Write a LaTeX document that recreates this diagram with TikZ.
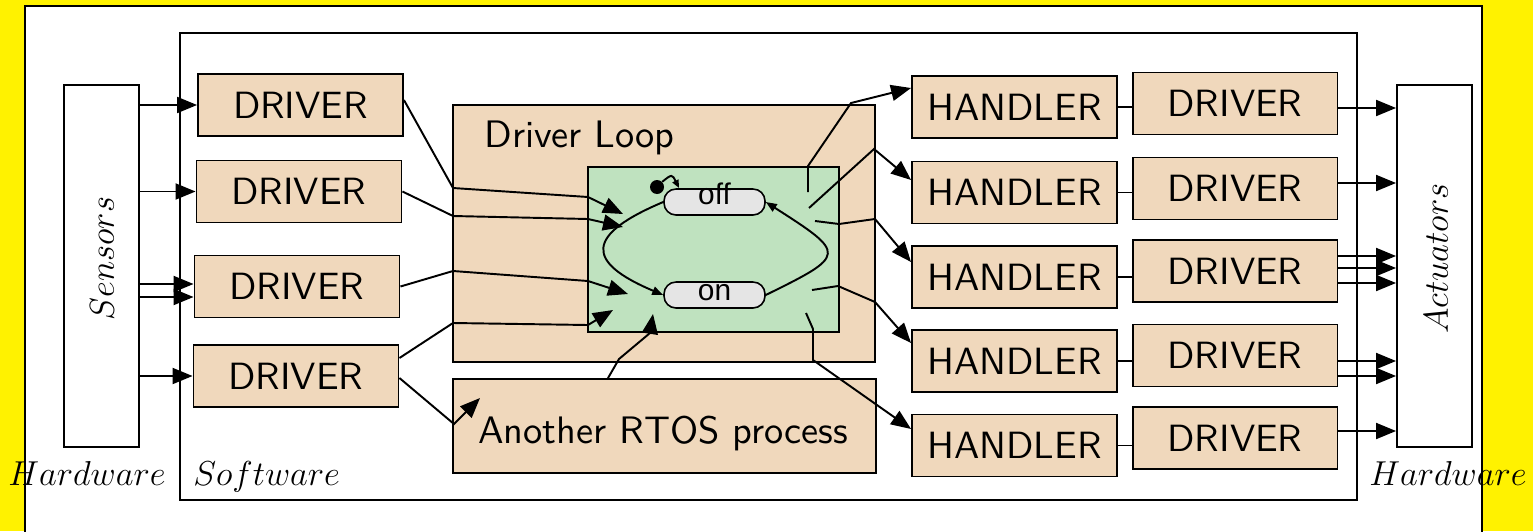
\RequirePackage{fix-cm}
\documentclass[tikz,border=0pt]{standalone}
\usepackage{fontspec}
\newfontfamily\statefont{Liberation Sans}
\newfontfamily\boxfont{lmsans10-regular.otf}
\usetikzlibrary{arrows.meta}
\definecolor{tanfill}{RGB}{240,216,188}
\definecolor{loopgreen}{RGB}{191,226,191}
\definecolor{stategray}{RGB}{229,229,229}
\begin{document}
\begin{tikzpicture}[x=0.02cm,y=-0.02cm,
  frame/.style={draw,line width=1.1pt},
  box/.style={draw,line width=1.1pt,fill=tanfill,inner sep=0pt,
    minimum width=4.1cm,minimum height=1.24cm,
    font=\boxfont\fontsize{21.6}{26}\selectfont},
  hw/.style={draw,line width=1.1pt,fill=white,inner sep=0pt,
    minimum width=1.5cm,minimum height=7.24cm},
  statebox/.style={draw,line width=0.9pt,fill=stategray,rounded corners=0.24cm,
    minimum width=2.02cm,minimum height=0.52cm,inner sep=0pt},
  statetext/.style={anchor=base,inner sep=0pt,font=\statefont\fontsize{17}{19}\selectfont},
  mathlbl/.style={inner sep=0pt,font=\fontsize{19.7}{24}\selectfont},
  bigtext/.style={inner sep=0pt,anchor=base west,font=\boxfont\fontsize{21.8}{26}\selectfont},
  ln/.style={draw,line width=1.1pt},
  arr/.style={ln,-{Triangle[length=0.4cm,width=0.32cm]}},
  smallarr/.style={ln,-{Triangle[length=0.22cm,width=0.17cm]}},
  tinyarr/.style={ln,-{Triangle[length=0.16cm,width=0.13cm]}}]

\useasboundingbox (0,0) rectangle (1533,531);
\clip (0,0) rectangle (1533,531);
\fill[yellow] (0,0) rectangle (1533,531);
\draw[frame,fill=white] (25,6) rectangle (1482,560);
\draw[frame] (180,33) rectangle (1357,500);

% hardware on both sides
\node[hw] (sens) at (101.5,266) {};
\node[hw] (act) at (1434.5,266) {};
\node[mathlbl,rotate=90] at (102,258.5) {$Sensors$};
\node[mathlbl,rotate=90] at (1436,258.5) {$Actuators$};

% input drivers
\node[box] (d1) at (300.5,105) {DRIVER};
\node[box] (d2) at (299,191.5) {DRIVER};
\node[box] (d3) at (297,286.5) {DRIVER};
\node[box] (d4) at (296,376) {DRIVER};

% driver loop with its state machine
\node[draw,line width=1.1pt,fill=tanfill,minimum width=8.44cm,minimum height=5.14cm,inner sep=0pt]
  (loop) at (664,233.5) {};
\node[bigtext] (looplbl) at (484,147) {Driver Loop};
\node[draw,line width=1.1pt,fill=loopgreen,minimum width=5.02cm,minimum height=3.3cm,inner sep=0pt]
  (sm) at (713.5,249.5) {};
\node[statebox] (off) at (714.5,202) {};
\node[statetext] at (714.5,204) {off};
\node[statebox] (on) at (714.5,295) {};
\node[statetext] at (714.5,300) {on};
\node[circle,fill,inner sep=0pt,minimum size=0.28cm] (init) at (657,187) {};
\draw[tinyarr] (init.north east) .. controls (672,174) .. (679,188);
\draw[smallarr] (off.west) .. controls (585,235) and (585,262) .. (on.west);
\draw[smallarr] (on.east) .. controls (847,255) and (847,254) .. (off.east);

% other process
\node[draw,line width=1.1pt,fill=tanfill,minimum width=8.46cm,minimum height=1.88cm,inner sep=0pt]
  (rtos) at (664.5,426) {};
\node[bigtext] (rtoslbl) at (478,443) {Another RTOS process};

% handlers and output drivers
\foreach \i/\hy/\ry in {1/107/103.5,2/192.5/188.5,3/277/271,4/361/355.5,5/445.5/438}{
  \node[box] (h\i) at (1014.5,\hy) {HANDLER};
  \node[box] (r\i) at (1235,\ry) {DRIVER};
  \draw[ln] (h\i.east) -- (r\i.west |- h\i.east);
}

% sensors to drivers
\draw[arr] (sens.east |- d1.west) -- (d1.west);
\draw[arr] (sens.east |- d2.west) -- (d2.west);
\draw[arr] ([yshift=0.05cm]d3.west -| sens.east) -- ([yshift=0.05cm]d3.west);
\draw[arr] ([yshift=-0.21cm]d3.west -| sens.east) -- ([yshift=-0.21cm]d3.west);
\draw[arr] (sens.east |- d4.west) -- (d4.west);

% drivers into the loop
\coordinate (t1) at (623,214);
\coordinate (t2) at (623,227);
\coordinate (t3) at (628,294);
\coordinate (t4) at (613,310);
\coordinate (t5) at (480,398);
\coordinate (t6) at (653,314);
\draw[arr] ([yshift=0.1cm]d1.east) -- (453,188) -- (588,197) -- (t1);
\draw[arr] (d2.east) -- (453,216) -- (588,219) -- (t2);
\draw[arr] (d3.east) -- (453,271) -- (588,281) -- (t3);
\draw[arr] ([yshift=0.36cm]d4.east) -- (453,323) -- (588,325) -- (t4);
\draw[arr] ([yshift=-0.04cm]d4.east) -- (454,424) -- (t5);
\draw[arr] ([xshift=-1.13cm]rtos.north) -- (619,359) -- (650,333) -- (t6);

% loop out to handlers
\coordinate (s1) at (808,192);
\coordinate (s2) at (809,208);
\coordinate (s3) at (815,221);
\coordinate (s4) at (812,290);
\coordinate (s5) at (806,313);
\draw[arr] (s1) -- (808,166) -- (851,103) -- ([yshift=0.38cm]h1.west);
\draw[arr] (s2) -- (874,149) -- ([yshift=0.25cm]h2.west);
\draw[arr] (s3) -- (839,224) -- (875,219) -- ([yshift=0.3cm]h3.west);
\draw[arr] (s4) -- (838,286) -- (875,302) -- ([yshift=0.36cm]h4.west);
\draw[arr] (s5) -- (813,329) -- (813,360) -- ([yshift=0.33cm]h5.west);

% output drivers to actuators
\foreach \n/\s in {r1/-0.09,r2/0.11,r3/0.3,r3/0.06,r3/-0.24,r4/-0.11,r4/-0.41,r5/0.14}{
  \draw[arr] ([yshift=\s cm]\n.east) -- ([yshift=\s cm]\n.east -| act.west);
}

% region labels
\node[mathlbl,anchor=base west] at (8,485) {$Hardware$};
\node[mathlbl,anchor=base west] at (193,485) {$Software$};
\node[mathlbl,anchor=base west] at (1369,485) {$Hardware$};
\end{tikzpicture}
\end{document}
